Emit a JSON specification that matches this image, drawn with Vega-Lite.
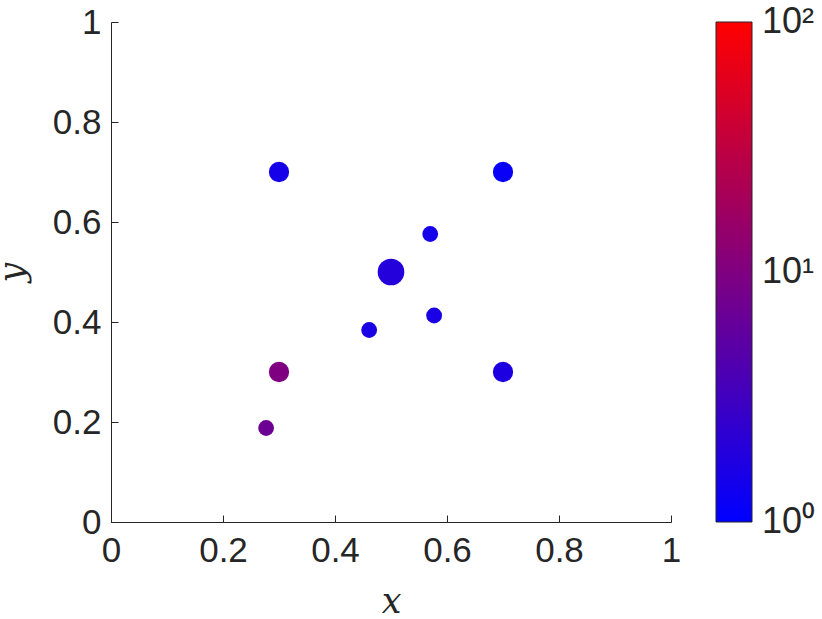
{
  "$schema": "https://vega.github.io/schema/vega-lite/v6.json",
  "width": 560,
  "height": 500,
  "autosize": "none",
  "padding": {"left": 111, "top": 22, "right": 151, "bottom": 97},
  "background": "white",
  "config": {
    "view": {"stroke": null},
    "font": "Liberation Sans",
    "axis": {
      "grid": false,
      "domainColor": "#262626",
      "tickColor": "#262626",
      "labelColor": "#262626",
      "labelFont": "Liberation Sans",
      "labelFontSize": 35,
      "labelFlush": false,
      "tickSize": -7,
      "domainWidth": 1,
      "tickWidth": 1,
      "titleFont": "DejaVu Serif",
      "titleFontStyle": "italic",
      "titleFontWeight": "normal",
      "titleFontSize": 35,
      "titleColor": "#262626"
    }
  },
  "data": {
    "values": [
      {"x": 0.3, "y": 0.7, "c": 1.5, "w": 1.7},
      {"x": 0.7, "y": 0.7, "c": 1.15, "w": 1.7},
      {"x": 0.57, "y": 0.576, "c": 1.5, "w": 1},
      {"x": 0.5, "y": 0.5, "c": 1.9, "w": 3},
      {"x": 0.577, "y": 0.413, "c": 1.6, "w": 1},
      {"x": 0.461, "y": 0.384, "c": 1.6, "w": 1},
      {"x": 0.3, "y": 0.3, "c": 10, "w": 1.7},
      {"x": 0.7, "y": 0.3, "c": 1.7, "w": 1.7},
      {"x": 0.277, "y": 0.188, "c": 7, "w": 1}
    ]
  },
  "mark": {"type": "circle", "opacity": 1},
  "encoding": {
    "x": {
      "field": "x", "type": "quantitative",
      "scale": {"domain": [0, 1], "nice": false, "zero": false},
      "axis": {"values": [0, 0.2, 0.4, 0.6, 0.8, 1], "format": "~g", "title": "x", "labelFontSize": 35, "labelFlush": false, "labelPadding": 18, "titleY": 90, "titleBaseline": "alphabetic"}
    },
    "y": {
      "field": "y", "type": "quantitative",
      "scale": {"domain": [0, 1], "nice": false, "zero": false},
      "axis": {"values": [0, 0.2, 0.4, 0.6, 0.8, 1], "format": "~g", "title": "y", "labelFontSize": 35, "labelPadding": 17, "titleX": -88, "titleBaseline": "alphabetic"}
    },
    "size": {
      "field": "w", "type": "quantitative",
      "scale": {"type": "linear", "domain": [1, 3], "range": [250, 710]},
      "legend": null
    },
    "color": {
      "field": "c", "type": "quantitative",
      "scale": {"type": "log", "domain": [1, 100], "range": ["#0000ff", "#ff0000"], "interpolate": "rgb"},
      "legend": {
        "orient": "none",
        "legendX": 605,
        "legendY": 0,
        "direction": "vertical",
        "title": null,
        "gradientLength": 500,
        "gradientThickness": 36,
        "gradientStrokeColor": "#262626",
        "gradientStrokeWidth": 1,
        "values": [1.0005, 10, 99.95],
        "labelExpr": "datum.value < 2 ? '10⁰' : datum.value < 50 ? '10¹' : '10²'",
        "labelFont": "Liberation Sans",
        "labelFontSize": 36,
        "labelColor": "#262626",
        "labelOffset": 10,
        "labelOverlap": false
      }
    }
  }
}
